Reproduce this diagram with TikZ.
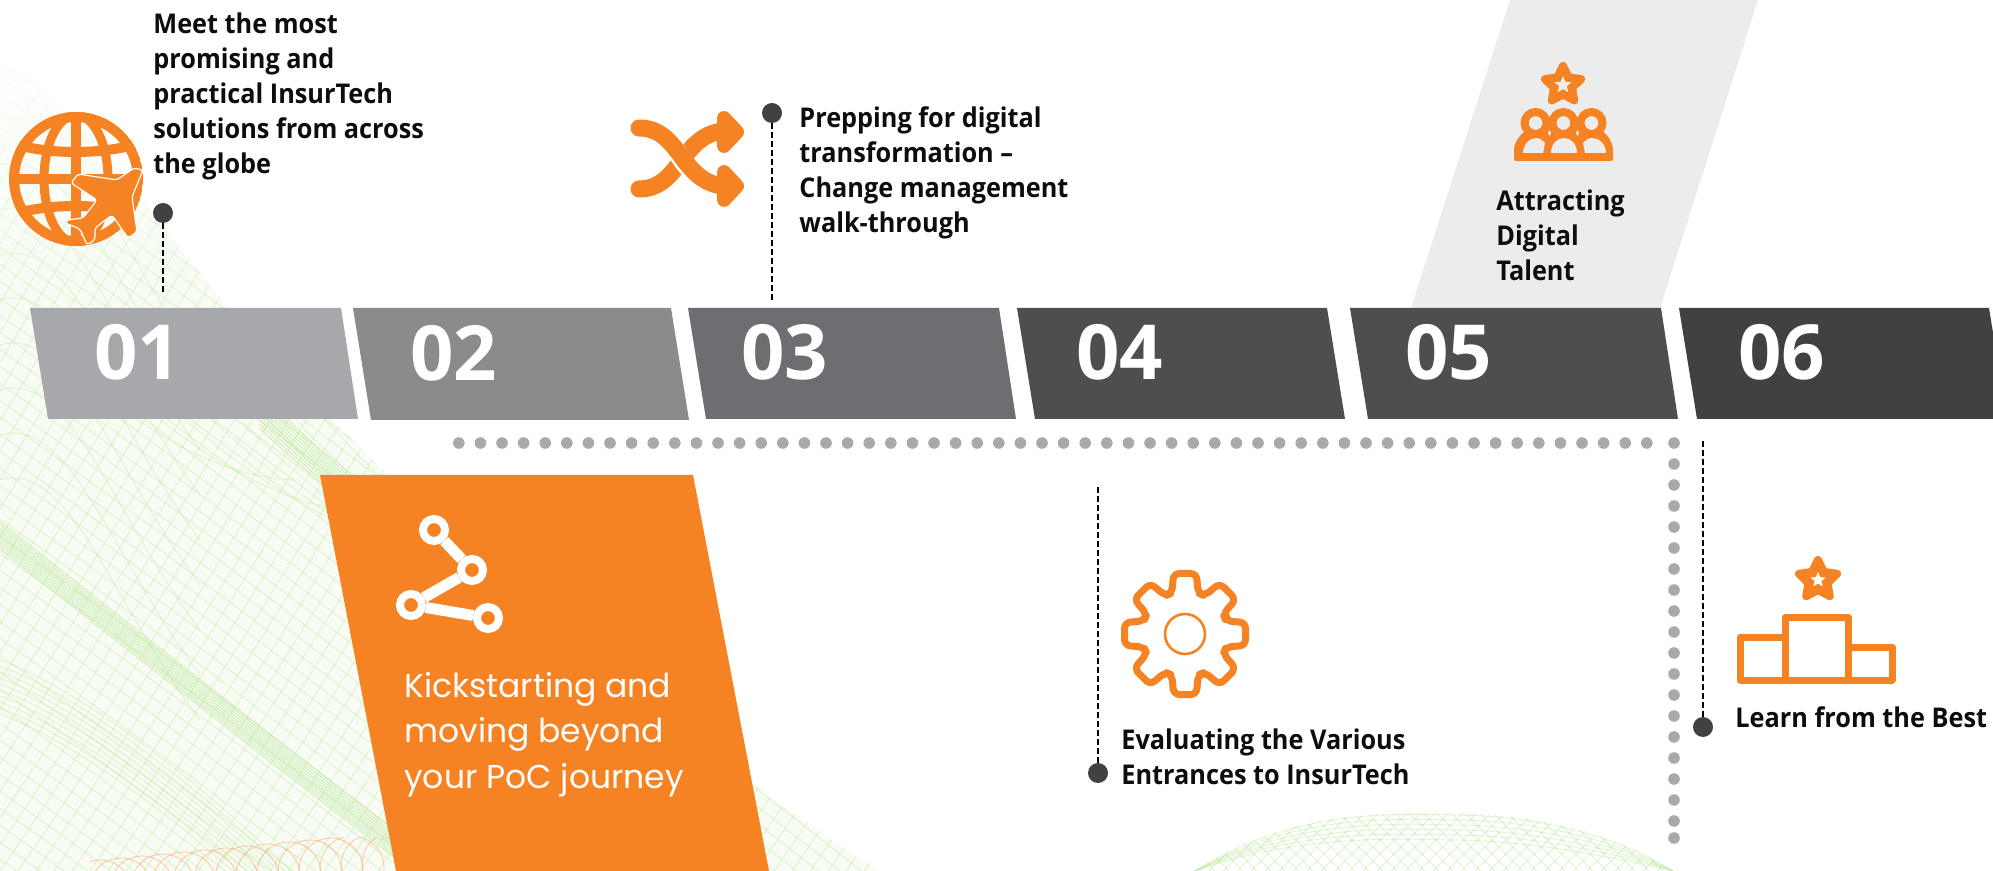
\documentclass[tikz,border=0pt]{standalone}
\usepackage{fontspec}
\usetikzlibrary{fadings}
\setmainfont{Open Sans}
\newfontfamily\labelfam[FakeStretch=0.93]{Open Sans}
\newfontfamily\panelfam{Poppins}
\definecolor{orng}{HTML}{F58223}
\definecolor{dotg}{HTML}{414042}
\definecolor{pale}{HTML}{ECECEC}
\definecolor{dotl}{HTML}{A7A9AC}
\definecolor{meshg}{HTML}{B4E690}
\definecolor{s1}{HTML}{A7A8AB}
\definecolor{s2}{HTML}{8A8B8D}
\definecolor{s3}{HTML}{6D6E71}
\definecolor{s4}{HTML}{4E4E50}
\definecolor{s6}{HTML}{414042}
\newcommand{\myStar}[5]{% x y R hole colour
  \begin{scope}[shift={(#1,#2)}]
  \draw[line width=4pt,line join=round,draw=orng,fill=orng]
    (-90:#3)--(-54:#3*.5)--(-18:#3)--(18:#3*.5)--(54:#3)--(90:#3*.5)--(126:#3)--(162:#3*.5)--(198:#3)--(234:#3*.5)--cycle;
  \fill[#5] (-90:#4)--(-54:#4*.45)--(-18:#4)--(18:#4*.45)--(54:#4)--(90:#4*.45)--(126:#4)--(162:#4*.45)--(198:#4)--(234:#4*.45)--cycle;
  \end{scope}}
\tikzset{
  x=0.5pt,y=-0.5pt,
  num/.style={anchor=base west,inner sep=0,text=white,font=\fontsize{38}{40}\selectfont\bfseries},
  lab/.style={anchor=north west,inner sep=0,align=left,text=black!95,font=\labelfam\fontsize{13.6}{17.5}\selectfont\bfseries},
  dotn/.style={circle,fill=dotg,draw=none,minimum size=10pt,inner sep=0},
  dashln/.style={draw=black,line width=1pt,dash pattern=on 2.6pt off 1.9pt},
  grey/.style={fill=dotl,draw=none},
  netring/.style={circle,draw=white,fill=orng,line width=4pt,minimum size=11pt,inner sep=0},
  netline/.style={draw=white,line width=5.5pt},
  ic/.style={draw=orng,line width=3.5pt,line join=round},
  mesh/.style={draw=meshg,line width=.4pt,opacity=.42},
  meshb/.style={draw=meshg,line width=.4pt,opacity=.7},
}
\begin{document}
\begin{tikzpicture}
\useasboundingbox (0,0) rectangle (1993,871);
\fill[white] (0,0) rectangle (1993,871);
% ---- background mesh, left wave
\begin{scope}
\clip (0,62) .. controls (60,82) and (130,190) .. (230,310) .. controls (340,440) and (520,600) .. (700,740) .. controls (770,800) and (830,840) .. (880,871) -- (0,871) -- cycle;
\fill[meshg!10] (0,0) rectangle (900,871);
\foreach \k in {-55,...,55} {
  \draw[mesh] (-50,{60+\k*17}) .. controls (200,{230+\k*17}) and (500,{470+\k*17}) .. (1000,{860+\k*17});
}
\foreach \k in {-15,...,75} {
  \draw[mesh] ({\k*18-200},900) .. controls ({\k*18-60},700) and ({\k*18+60},500) .. ({\k*18+340},40);
}
\foreach \k in {0,...,9} {
  \draw[meshb] (0,{522+\k*3}) .. controls (150,{640+\k*3}) and (300,{760+\k*3}) .. (480,{895+\k*3});
  \draw[meshb] (260,{392+\k*4}) .. controls (300,{432+\k*4}) and (340,{470+\k*3}) .. (400,{520+\k*3});
  \draw[mesh] (0,{660+\k*6}) .. controls (80,{690+\k*6}) and (200,{780+\k*6}) .. (300,{880+\k*6});
}
\foreach \k in {0,...,8} {
  \draw[mesh] ({40+\k*40},{330+\k*12}) .. controls ({100+\k*40},{400+\k*12}) and ({200+\k*40},{480+\k*12}) .. ({300+\k*40},{480+\k*30});
  \draw[mesh] (0,{120+\k*45}) .. controls (70,{100+\k*45}) and (110,{240+\k*45}) .. (200,{360+\k*45});
}
\end{scope}
\fill[white,path fading=south] (0,40) rectangle (330,300);
% red arcs
\begin{scope}
\clip (90,837) rectangle (400,871);
\foreach \k in {0,...,14} {
  \draw[draw=orange!40!pink,line width=.4pt,opacity=.6] ({100+\k*21},{892-\k*2}) circle [radius=32];
}
\end{scope}
% hump
\begin{scope}
\clip (1195,871) .. controls (1290,810) and (1380,813) .. (1450,813) .. controls (1530,813) and (1610,830) .. (1673,871) -- cycle;
\foreach \k in {-6,...,34} {
  \draw[mesh] ({1180+\k*14},780) -- ({1300+\k*14},900);
  \draw[mesh] ({1300+\k*14},780) -- ({1180+\k*14},900);
}
\end{scope}
\foreach \k in {0,...,5} {
  \draw[mesh] (1195,871) .. controls (1290,{812+\k*5}) and (1380,{813+\k*5}) .. (1450,{815+\k*5}) .. controls (1530,{815+\k*5}) and (1610,{832+\k*5}) .. (1673,871);
}
% ---- pale parallelogram
\fill[pale] (1510,0) -- (1758,0) -- (1660,308) -- (1411,308) -- cycle;
% ---- band
\fill[s1] (30,308) -- (341,308) -- (358,419) -- (48,419) -- cycle;
\fill[s2] (353,308) -- (671,308) -- (689,420) -- (371,420) -- cycle;
\fill[s3] (688,308) -- (999,308) -- (1016,419) -- (706,419) -- cycle;
\fill[s4] (1017,308) -- (1327,308) -- (1345,419) -- (1035,419) -- cycle;
\fill[s4] (1350,308) -- (1661,308) -- (1678,419) -- (1368,419) -- cycle;
\fill[s6] (1679,308) -- (1989,308) -- (2007,419) -- (1697,419) -- cycle;
\node[num] (n1) at (94,380) {01};
\node[num] (n2) at (410,381) {02};
\node[num] (n3) at (741,380) {03};
\node[num] (n4) at (1076,380) {04};
\node[num] (n5) at (1405,380) {05};
\node[num] (n6) at (1738,380) {06};
% ---- dotted route
\foreach \k in {0,...,55} { \fill[grey] ({458.8+\k*21.6},443) circle [radius=5.8]; }
\foreach \k in {0,...,18} { \fill[grey] (1674,{443+\k*21}) circle [radius=5.8]; }
\fill[grey] (1674,838) circle [radius=5.8];
% ---- orange panel
\fill[orng] (320,475) -- (693,475) -- (769,871) -- (396,871) -- cycle;
\node[netring] (a) at (434,530) {};
\node[netring] (b) at (472,570) {};
\node[netring] (c) at (411,605) {};
\node[netring] (d) at (488,618) {};
\draw[netline] (a) -- (b);
\draw[netline] (b) -- (c);
\draw[netline] (c) -- (d);
\node[anchor=north west,inner sep=0,align=left,text=white,font=\panelfam\fontsize{16.5}{22.7}\selectfont] (panel) at (404,672) {Kickstarting and\\moving beyond\\your PoC journey};
% ---- globe
\begin{scope}
\clip (76,179) circle [radius=67];
\draw[orng,line width=5pt] (76,179) circle [radius=62];
\draw[orng,line width=5pt] (76,110) -- (76,250);
\draw[orng,line width=4.5pt] (76,179) ellipse [x radius=32,y radius=64];
\draw[orng,line width=5pt] (0,179) -- (150,179);
\draw[orng,line width=5pt] (10,143) .. controls (50,155) and (100,155) .. (142,143);
\draw[orng,line width=5pt] (10,215) .. controls (50,203) and (100,203) .. (142,215);
\end{scope}
\draw[white,fill=orng,line width=.6pt,line join=round,rounded corners=1.5pt] (143,170) -- (134,168) -- (117,180) -- (78,174) -- (71,183) -- (97,200) -- (83,218) -- (67,220) -- (65,223) -- (80,229) -- (87,245) -- (95,240) -- (95,228) -- (112,215) -- (128,238) -- (137,232) -- (132,197) -- cycle;
% ---- leaders
\node[dotn] (d1) at (163,213) {};
\coordinate (e1) at (163,294);
\draw[dashln] (d1) -- (e1);
\node[dotn] (d3) at (772,113) {};
\coordinate (e3) at (772,301);
\draw[dashln] (d3) -- (e3);
\node[dotn] (d4) at (1098,773) {};
\coordinate (e4) at (1098,486);
\draw[dashln] (d4) -- (e4);
\node[dotn] (d6) at (1703,727) {};
\coordinate (e6) at (1703,441);
\draw[dashln] (d6) -- (e6);
% ---- labels
\node[lab] (t1) at (153,12) {Meet the most\\promising and\\practical InsurTech\\solutions from across\\the globe};
\node[lab] (t3) at (799,106) {Prepping for digital\\transformation –\\Change management\\walk-through};
\node[lab] (t5) at (1496,189) {Attracting\\Digital\\Talent};
\node[lab] (t4) at (1121,728) {Evaluating the Various\\Entrances to InsurTech};
\node[lab] (t6) at (1735,706) {Learn from the Best};
% ---- shuffle icon
\draw[orng,line width=8.5pt,line cap=round] (639,189) .. controls (680,189) and (680,137) .. (722,131);
\draw[white,line width=9.6pt] (672,145) .. controls (680,155) and (685,168) .. (695,172);
\draw[orng,line width=8.5pt,line cap=round] (639,128) .. controls (680,128) and (680,180) .. (722,186);
\draw[orng,fill=orng,line width=7pt,line join=round] (724,118) -- (737,132) -- (724,146) -- cycle;
\draw[orng,fill=orng,line width=7pt,line join=round] (724,172) -- (737,186) -- (724,200) -- cycle;
% ---- attracting icon
\myStar{1563}{85}{19}{9}{pale}
\fill[orng,rounded corners=1pt] (1514,161) -- (1514,152) .. controls (1514,140) and (1525,128) .. (1536,128) -- (1592,128) .. controls (1603,128) and (1613,140) .. (1613,152) -- (1613,161) -- cycle;
\foreach \hx in {1535.6,1563.4,1591.5} {
  \draw[orng,fill=pale,line width=4pt] (\hx,123) circle [radius=11];
}
\fill[pale] (1523,153) .. controls (1523,144) and (1530,138) .. (1536,138) .. controls (1540,138) and (1543,141) .. (1545,143) -- (1543,153) -- cycle;
\fill[pale] (1551,153) .. controls (1551,144) and (1557,138) .. (1564,138) .. controls (1571,138) and (1577,144) .. (1577,153) -- cycle;
\fill[pale] (1606,153) .. controls (1606,144) and (1599,138) .. (1592,138) .. controls (1588,138) and (1585,141) .. (1583,143) -- (1585,153) -- cycle;
\fill[pale] (1549.5,130) -- (1551,133) -- (1549.5,136) -- (1548,133) -- cycle;
\fill[pale] (1577.5,130) -- (1579,133) -- (1577.5,136) -- (1576,133) -- cycle;
% ---- gear
\begin{scope}[shift={(1185,634)}]
\draw[ic,rounded corners=3pt] (41,-13)
  \foreach \a in {0,45,...,315} {
    -- ({41*cos(\a)+13*sin(\a)},{41*sin(\a)-13*cos(\a)})
    -- ({60.5*cos(\a)+11.5*sin(\a)},{60.5*sin(\a)-11.5*cos(\a)})
    -- ({60.5*cos(\a)-11.5*sin(\a)},{60.5*sin(\a)+11.5*cos(\a)})
    -- ({41*cos(\a)-13*sin(\a)},{41*sin(\a)+13*cos(\a)})
  } -- cycle;
\draw[orng,line width=1.3pt] (0,0) circle [radius=20];
\end{scope}
% ---- podium
\draw[ic] (1785,680) -- (1740,680) -- (1740,637) -- (1785,637);
\draw[ic] (1785,680) -- (1785,617) -- (1848,617) -- (1848,680);
\draw[ic] (1848,647) -- (1892,647) -- (1892,680) -- (1785,680);
\myStar{1818}{580}{20}{8}{white}
\end{tikzpicture}
\end{document}
